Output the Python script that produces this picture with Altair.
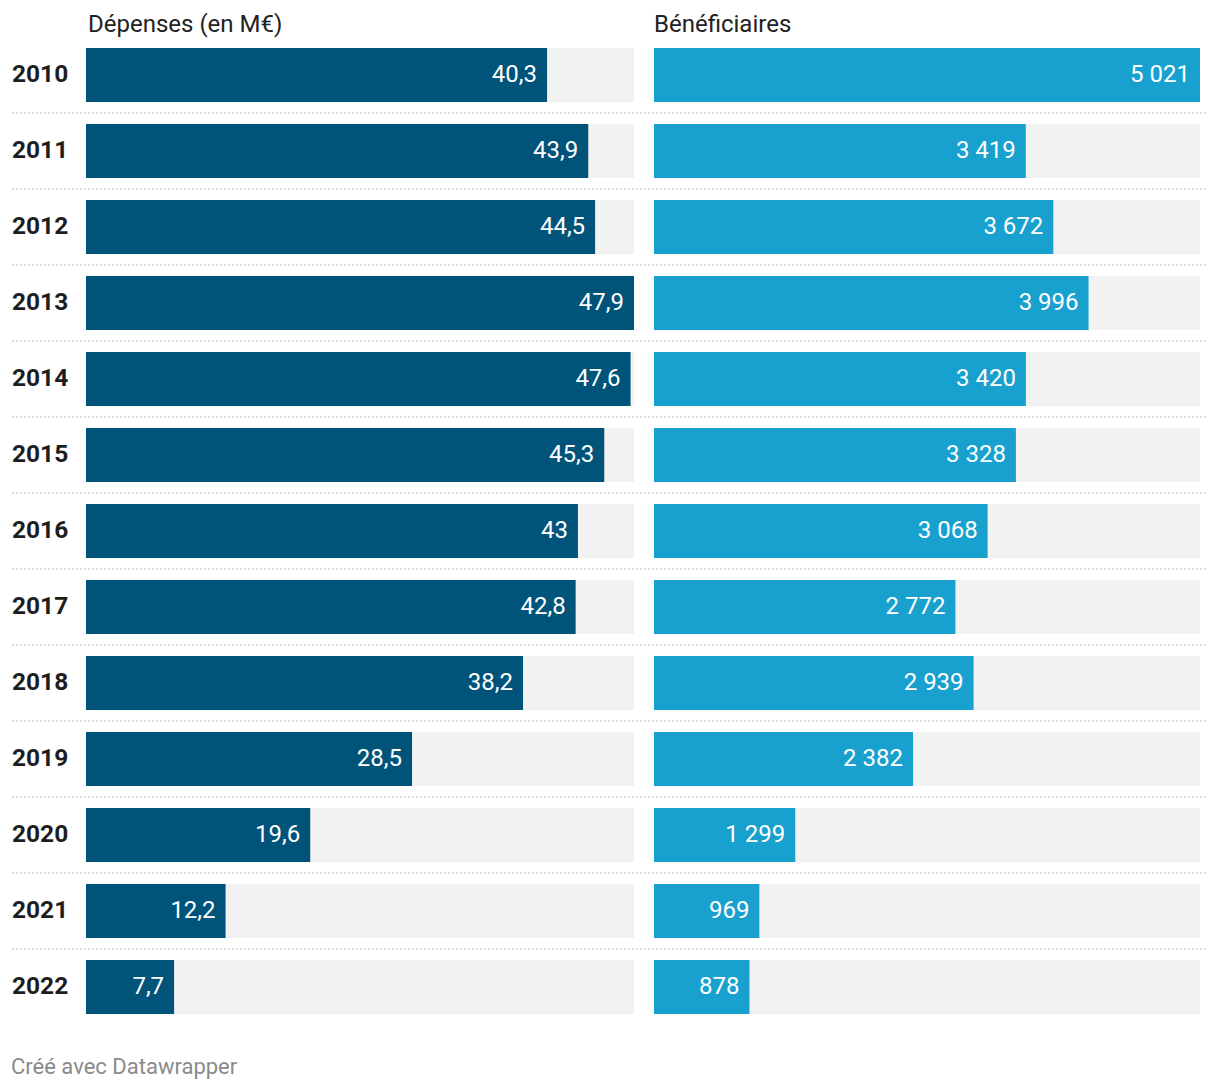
import altair as alt
import pandas as pd

years = [str(y) for y in range(2010, 2023)]
depenses = [40.3, 43.9, 44.5, 47.9, 47.6, 45.3, 43, 42.8, 38.2, 28.5, 19.6, 12.2, 7.7]
beneficiaires = [5021, 3419, 3672, 3996, 3420, 3328, 3068, 2772, 2939, 2382, 1299, 969, 878]
headers = ["Dépenses (en M€)", "Bénéficiaires"]
footer = "Créé avec Datawrapper"

def fr_dec(v):
    return f"{v:g}".replace(".", ",")

def fr_int(v):
    return f"{v:,}".replace(",", " ")

dep_max = max(depenses)
ben_max = max(beneficiaires)

df = pd.DataFrame({
    "year": years,
    "dep": depenses,
    "ben": beneficiaires,
    "dep_lbl": [fr_dec(v) for v in depenses],
    "ben_lbl": [fr_int(v) for v in beneficiaires],
    "dep_max": [dep_max] * len(years),
    "ben_max": [ben_max] * len(years),
})

FONT = "Roboto"
ysc = alt.Scale(domain=years, range=[37, 1025], paddingInner=22 / 76, paddingOuter=11 / 76)
Y = alt.Y("year:O", scale=ysc, axis=None)

def panel(val, mx, lbl, color, rng, dom):
    xs = alt.Scale(domain=[0, dom], range=rng, nice=False)
    base = alt.Chart(df)
    bg = base.mark_bar(color="#f2f2f2").encode(x=alt.X(f"{mx}:Q", scale=xs, axis=None), y=Y)
    bar = base.mark_bar(color=color).encode(x=alt.X(f"{val}:Q", scale=xs, axis=None), y=Y)
    txt = base.mark_text(align="right", baseline="middle", dx=-10, dy=0, color="white",
                         font=FONT, fontSize=24).encode(
        x=alt.X(f"{val}:Q", scale=xs, axis=None), y=Y, text=f"{lbl}:N")
    return alt.layer(bg, bar, txt)

left = panel("dep", "dep_max", "dep_lbl", "#005379", [86, 634], dep_max)
right = panel("ben", "ben_max", "ben_lbl", "#18a1ce", [654, 1200], ben_max)

sep = alt.Chart(pd.DataFrame({"year": years[:-1]})).mark_rule(
    color="#cfcfcf", strokeDash=[2, 2], strokeWidth=1.5, yOffset=11).encode(
    y=alt.Y("year:O", scale=ysc, axis=None, bandPosition=1),
    x=alt.value(12), x2=alt.value(1208))

year_lbl = alt.Chart(df).mark_text(align="left", baseline="middle", dy=0, font=FONT,
                                   fontSize=24.5, fontWeight="bold", color="#1d1d1d").encode(
    x=alt.value(12), y=Y, text="year:N")

hdr_df = pd.DataFrame({"t": headers, "px": [88, 654]})
hdr = alt.Chart(hdr_df).mark_text(align="left", baseline="middle", font=FONT, fontSize=24,
                                  color="#222222").encode(
    x=alt.X("px:Q", scale=alt.Scale(domain=[0, 1220], range=[0, 1220]), axis=None),
    y=alt.value(25), text="t:N")

foot = alt.Chart(pd.DataFrame({"t": [footer]})).mark_text(
    align="left", baseline="middle", font=FONT, fontSize=22, color="#8a8a8a").encode(
    x=alt.value(11), y=alt.value(1067), text="t:N")

chart = alt.layer(sep, left, right, year_lbl, hdr, foot).resolve_scale(x="independent").properties(
    width=1220, height=1090, padding=0, autosize=alt.AutoSizeParams(type="none")
).configure_view(stroke=None)

chart.save("out.html", embed_options={"renderer": "svg", "actions": False})
